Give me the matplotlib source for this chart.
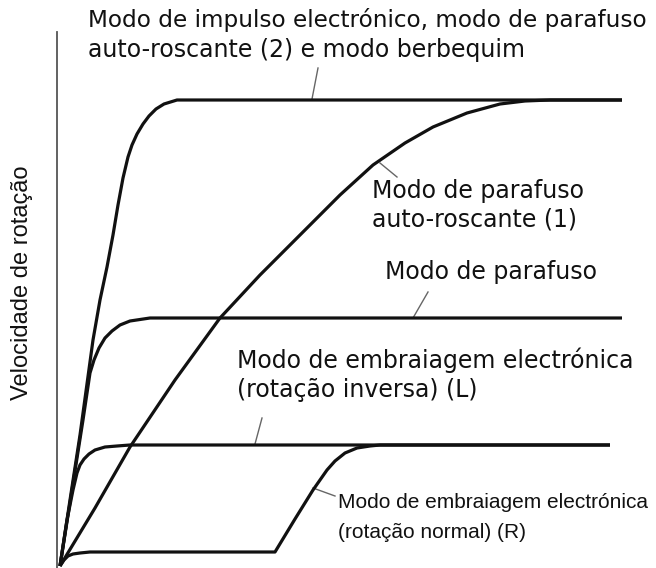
import matplotlib
matplotlib.use("Agg")
import matplotlib.pyplot as plt

# Curves: x = load/time (arbitrary units), y = rotation speed (arbitrary units)
impulse_x = [0, 10, 20, 33, 40, 47, 53, 58, 63, 68, 72, 77, 83, 89, 96, 104, 117, 562]
impulse_y = [0, 66, 131, 226, 266, 299, 331, 361, 388, 409, 421, 432, 442, 450, 457, 462, 466, 466]

tapping1_x = [0, 35, 70, 115, 160, 200, 237, 280, 313, 345, 373, 407, 440, 465, 490, 562]
tapping1_y = [0, 58, 119, 186, 248, 291, 328, 371, 401, 423, 439, 453, 462, 465, 466, 466]

screw_x = [0, 12, 23, 30, 34, 39, 45, 52, 60, 70, 90, 562]
screw_y = [0, 76, 146, 193, 206, 218, 228, 235, 241, 245, 248, 248]

clutch_rev_x = [0, 7, 13, 17, 20, 24, 29, 35, 45, 57, 70, 550]
clutch_rev_y = [0, 46, 76, 93, 101, 107, 112, 116, 119, 120, 121, 121]

clutch_norm_x = [0, 4, 8, 13, 20, 30, 40, 215, 235, 253, 260, 267, 275, 285, 297, 310, 320, 550]
clutch_norm_y = [0, 6, 10, 12, 13, 14, 14, 14, 47, 76, 86, 96, 105, 113, 118, 120, 121, 121]

series = [
    (impulse_x, impulse_y),
    (tapping1_x, tapping1_y),
    (screw_x, screw_y),
    (clutch_rev_x, clutch_rev_y),
    (clutch_norm_x, clutch_norm_y),
]

y_label = "Velocidade de rotação"

W, H = 656, 568
fig = plt.figure(figsize=(W / 100, H / 100), dpi=100)
ax = fig.add_axes([0, 0, 1, 1])
ax.set_xlim(-60, W - 60)
ax.set_ylim(-2, H - 2)
ax.axis("off")

def P(px, py):
    return px - 60, 566 - py

for xs, ys in series:
    ax.plot(xs, ys, color="#111111", lw=2.3, solid_joinstyle="round",
            solid_capstyle="butt", zorder=3)

# vertical axis
ax.plot(*zip(P(57, 32), P(57, 570)), color="#555555", lw=1.3, zorder=2)

# leader lines
leaders = [
    ((318, 68), (312, 99)),
    ((380, 163), (397, 177)),
    ((428, 292), (413, 318)),
    ((262, 418), (255, 444)),
    ((313, 488), (335, 496)),
]
for a, b in leaders:
    ax.plot(*zip(P(*a), P(*b)), color="#666666", lw=1.0, zorder=2)

lib = ["Liberation Sans", "DejaVu Sans"]
dv = ["DejaVu Sans"]
fs = 17
texts = [
    (88, 20, "Modo de impulso electrónico, modo de parafuso", dv, 16.7),
    (88, 50, "auto-roscante (2) e modo berbequim", dv, fs),
    (372, 191, "Modo de parafuso", dv, fs),
    (372, 219, "auto-roscante (1)", dv, fs),
    (385, 272, "Modo de parafuso", dv, fs),
    (237, 360, "Modo de embraiagem electrónica", dv, fs),
    (237, 390, "(rotação inversa) (L)", dv, fs),
    (338, 502, "Modo de embraiagem electrónica", lib, 15),
    (338, 532, "(rotação normal) (R)", lib, 15),
]
for px, py, s, f, size in texts:
    ax.text(*P(px, py), s, family=f, fontsize=size, ha="left", va="center",
            color="#111111")

ax.text(*P(22, 283), y_label, family=lib, fontsize=17, rotation=90,
        ha="center", va="center", color="#111111")

fig.savefig("out.png", dpi=100)
